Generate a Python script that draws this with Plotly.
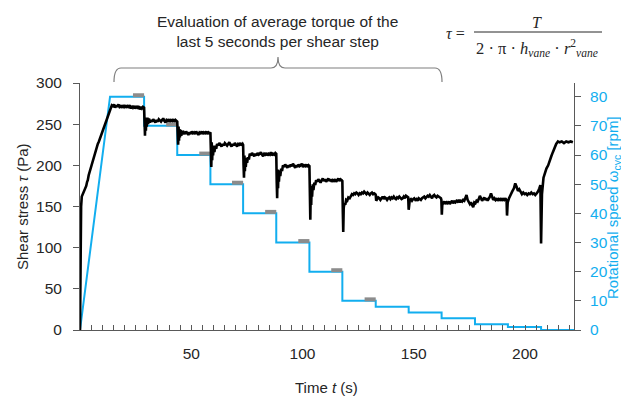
import plotly.graph_objects as go

# ---------------- data ----------------
# rotational speed profile (rpm): linear ramp, then constant steps
ramp_end = 13.5
step_levels = [80, 70, 60, 50, 40, 30, 20, 10, 8, 6, 4, 2, 1, 0]
step_ends = [28.8, 43.7, 58.6, 73.3, 88.2, 103.1, 117.9, 132.9, 147.7, 162.5, 177.5, 192.3, 207.2, 222]
eval_window = 5          # evaluation window (s) at end of each step
n_eval_steps = 8         # steps with marked evaluation window (80 ... 10 rpm)

# shear stress (Pa), per section (time s, stress Pa)
stress_ramp = [(0, 0), (0.15, 70), (0.3, 128), (0.5, 150), (0.8, 162), (1.3, 165), (1.8, 168), (2.25, 172),
               (2.8, 175), (3.2, 180), (3.5, 182), (3.9, 188), (4.5, 194), (5.0, 198), (5.5, 203), (6.0, 207),
               (6.5, 213), (7.0, 216), (7.5, 221), (8.0, 226), (8.5, 229), (9.0, 233), (9.5, 237), (10.0, 241),
               (10.5, 245), (11.0, 248), (11.5, 253), (12.0, 257), (12.5, 261), (13.0, 264), (13.5, 269), (14.3, 273)]
stress_80 = [(14.8, 272), (15.3, 274), (15.8, 270), (16.3, 273), (16.8, 271), (17.3, 274), (17.8, 271), (18.3, 272),
             (18.8, 270), (19.3, 273), (19.8, 271), (20.3, 273), (20.8, 270), (21.3, 272), (21.8, 271), (22.3, 273),
             (22.8, 269), (23.3, 272), (23.8, 270), (24.3, 272), (24.8, 269), (25.3, 271), (25.8, 270), (26.3, 272),
             (26.8, 268), (27.3, 271), (27.8, 269), (28.3, 271), (28.8, 270)]
stress_70 = [(29.0, 250), (29.2, 236), (29.4, 258), (29.6, 242), (29.8, 257), (30.0, 247), (30.3, 258), (30.6, 250),
             (31.0, 257), (31.4, 252), (31.9, 255), (32.4, 253), (32.9, 256), (33.4, 254), (33.9, 252), (34.4, 255),
             (34.9, 253), (35.4, 256), (35.9, 254), (36.4, 253), (36.9, 255), (37.4, 257), (37.9, 254), (38.4, 252),
             (38.9, 255), (39.4, 254), (39.9, 256), (40.4, 253), (40.9, 255), (41.4, 254), (41.9, 256), (42.4, 253),
             (42.9, 255), (43.4, 254), (43.7, 253)]
stress_60 = [(43.9, 238), (44.1, 225), (44.3, 247), (44.5, 230), (44.7, 244), (44.9, 234), (45.2, 243), (45.5, 236),
             (45.9, 242), (46.3, 238), (46.7, 240), (47.2, 238), (47.7, 241), (48.2, 239), (48.7, 237), (49.2, 240),
             (49.7, 238), (50.2, 241), (50.7, 239), (51.2, 240), (51.7, 238), (52.2, 241), (52.7, 239), (53.2, 237),
             (53.7, 240), (54.2, 239), (54.7, 241), (55.2, 238), (55.7, 240), (56.2, 239), (56.7, 241), (57.2, 238),
             (57.7, 240), (58.2, 239), (58.6, 240)]
stress_50 = [(58.8, 215), (59.0, 198), (59.2, 228), (59.4, 206), (59.6, 224), (59.8, 212), (60.1, 223), (60.4, 216),
             (60.8, 224), (61.2, 220), (61.6, 226), (62.1, 224), (62.6, 227), (63.1, 225), (63.6, 223), (64.1, 226),
             (64.6, 224), (65.1, 227), (65.6, 225), (66.1, 224), (66.6, 226), (67.1, 228), (67.6, 225), (68.1, 223),
             (68.6, 226), (69.1, 224), (69.6, 227), (70.1, 225), (70.6, 223), (71.1, 226), (71.6, 225), (72.1, 227),
             (72.6, 224), (73.1, 226), (73.3, 225)]
stress_40 = [(73.5, 200), (73.7, 185), (73.9, 212), (74.1, 193), (74.3, 209), (74.5, 198), (74.8, 209), (75.1, 203),
             (75.5, 210), (75.9, 207), (76.3, 214), (76.8, 212), (77.3, 215), (77.8, 213), (78.3, 211), (78.8, 214),
             (79.3, 212), (79.8, 215), (80.3, 213), (80.8, 214), (81.3, 216), (81.8, 213), (82.3, 211), (82.8, 214),
             (83.3, 213), (83.8, 215), (84.3, 212), (84.8, 214), (85.3, 213), (85.8, 216), (86.3, 212), (86.8, 214),
             (87.3, 213), (87.8, 215), (88.2, 214)]
stress_30 = [(88.4, 180), (88.6, 160), (88.8, 195), (89.0, 172), (89.2, 192), (89.4, 180), (89.7, 194), (90.0, 187),
             (90.4, 196), (90.8, 193), (91.2, 200), (91.7, 198), (92.2, 201), (92.7, 199), (93.2, 197), (93.7, 200),
             (94.2, 198), (94.7, 201), (95.2, 199), (95.7, 202), (96.2, 199), (96.7, 197), (97.2, 200), (97.7, 198),
             (98.2, 201), (98.7, 199), (99.2, 200), (99.7, 202), (100.2, 198), (100.7, 200), (101.2, 199), (101.7, 201),
             (102.2, 198), (102.7, 200), (103.1, 199)]
stress_20 = [(103.3, 160), (103.5, 134), (103.7, 172), (103.9, 152), (104.1, 175), (104.3, 162), (104.6, 177),
             (104.9, 170), (105.3, 179), (105.7, 176), (106.1, 182), (106.6, 180), (107.1, 183), (107.6, 181),
             (108.1, 179), (108.6, 182), (109.1, 184), (109.6, 181), (110.1, 183), (110.6, 180), (111.1, 182),
             (111.6, 184), (112.1, 181), (112.6, 183), (113.1, 180), (113.6, 182), (114.1, 181), (114.6, 183),
             (115.1, 180), (115.6, 182), (116.1, 184), (116.6, 181), (117.1, 183), (117.6, 182), (117.9, 181)]
stress_10 = [(118.1, 145), (118.3, 119), (118.5, 148), (118.8, 154), (119.2, 152), (119.6, 158), (120.1, 157),
             (120.6, 161), (121.2, 160), (121.7, 163), (122.2, 165), (122.7, 164), (123.2, 166), (123.7, 165),
             (124.2, 167), (124.7, 166), (125.2, 164), (125.7, 166), (126.2, 165), (126.7, 167), (127.2, 166),
             (127.7, 168), (128.2, 166), (128.7, 165), (129.2, 167), (129.7, 166), (130.2, 164), (130.7, 166),
             (131.2, 167), (131.7, 165), (132.2, 166), (132.7, 165), (132.9, 164)]
stress_8 = [(133.1, 157), (133.5, 159), (134.0, 161), (134.5, 160), (135.0, 158), (135.5, 160), (136.0, 162),
            (136.5, 159), (137.0, 161), (137.5, 160), (138.0, 158), (138.5, 160), (139.0, 161), (139.5, 159),
            (140.0, 161), (140.5, 160), (141.0, 162), (141.5, 160), (142.0, 159), (142.5, 161), (143.0, 160),
            (143.5, 162), (144.0, 161), (144.5, 159), (145.0, 160), (145.5, 162), (146.0, 160), (146.5, 163),
            (147.0, 162), (147.5, 161)]
stress_6 = [(147.7, 146), (147.9, 156), (148.2, 158), (148.7, 159), (149.2, 157), (149.7, 159), (150.2, 160),
            (150.7, 158), (151.2, 159), (151.7, 157), (152.2, 160), (152.7, 159), (153.2, 158), (153.7, 160),
            (154.2, 161), (154.7, 162), (155.2, 160), (155.7, 161), (156.2, 163), (156.7, 162), (157.2, 164),
            (157.7, 162), (158.2, 160), (158.7, 163), (159.2, 164), (159.7, 162), (160.2, 161), (160.7, 163),
            (161.2, 162), (161.7, 161), (162.2, 160), (162.4, 158)]
stress_4 = [(162.6, 140), (162.8, 152), (163.2, 154), (163.7, 156), (164.2, 153), (164.7, 155), (165.2, 154),
            (165.7, 156), (166.2, 153), (166.7, 155), (167.2, 157), (167.7, 154), (168.2, 156), (168.7, 155),
            (169.2, 157), (169.7, 156), (170.2, 158), (170.7, 155), (171.2, 157), (171.7, 156), (172.2, 158),
            (172.7, 157), (173.2, 160), (173.7, 164), (174.2, 158), (174.7, 155), (175.2, 153), (175.7, 155),
            (176.2, 152), (176.7, 149), (177.2, 155)]
stress_2 = [(177.7, 154), (178.2, 157), (178.7, 156), (179.2, 159), (179.7, 163), (180.2, 160), (180.7, 157),
            (181.2, 159), (181.7, 161), (182.2, 158), (182.7, 160), (183.2, 157), (183.7, 159), (184.2, 162),
            (184.7, 166), (185.2, 161), (185.7, 158), (186.2, 160), (186.7, 158), (187.2, 160), (187.7, 157),
            (188.2, 159), (188.7, 158), (189.2, 160), (189.7, 157), (190.2, 159), (190.7, 158), (191.2, 160),
            (191.7, 157)]
stress_1 = [(191.9, 139), (192.2, 155), (192.8, 160), (193.5, 165), (194.2, 168), (195.0, 172), (195.6, 178),
            (196.2, 174), (196.8, 169), (197.4, 171), (198.0, 167), (198.6, 165), (199.2, 167), (199.8, 165),
            (200.4, 166), (201.0, 164), (201.6, 166), (202.2, 165), (202.8, 167), (203.4, 165), (204.0, 166),
            (204.6, 164), (205.2, 166), (205.8, 168), (206.4, 172), (206.9, 176)]
stress_0 = [(207.2, 105), (207.6, 165), (208.3, 185), (209.0, 192), (209.6, 196), (210.4, 200), (211.0, 206),
            (211.8, 211), (212.5, 216), (213.2, 222), (214.0, 226), (214.8, 229), (215.5, 228), (216.5, 229),
            (217.5, 227), (218.5, 229), (219.5, 228), (220.5, 229), (221.5, 228)]

stress_sections = [stress_ramp, stress_80, stress_70, stress_60, stress_50, stress_40, stress_30,
                   stress_20, stress_10, stress_8, stress_6, stress_4, stress_2, stress_1, stress_0]

# ---------------- build series ----------------
t_stress, stress = [], []
for sec in stress_sections:
    for t, p in sec:
        t_stress.append(t)
        stress.append(p)

speed_t, speed = [0, ramp_end], [0, step_levels[0]]
for i, (lvl, end) in enumerate(zip(step_levels, step_ends)):
    speed_t.append(end)
    speed.append(lvl)
    if i + 1 < len(step_levels):
        speed_t.append(end)
        speed.append(step_levels[i + 1])

BLUE = "#12AEEF"
AXIS = "#595959"
TXT = "#262626"
FONT = "Liberation Sans, Arial, sans-serif"
SERIF = "Liberation Serif, Times New Roman, serif"

fig = go.Figure()
fig.add_trace(go.Scatter(x=speed_t, y=speed, mode="lines", line=dict(color=BLUE, width=2),
                         yaxis="y", hoverinfo="skip", showlegend=False))
for lvl, end in list(zip(step_levels, step_ends))[:n_eval_steps]:
    fig.add_trace(go.Scatter(x=[end - eval_window, end], y=[lvl + 0.5, lvl + 0.5], mode="lines",
                             line=dict(color="#8C8C8C", width=4), yaxis="y",
                             hoverinfo="skip", showlegend=False))
fig.add_trace(go.Scatter(x=t_stress, y=stress, mode="lines", line=dict(color="black", width=2.6),
                         yaxis="y2", hoverinfo="skip", showlegend=False))

# ---------------- layout ----------------
# page coordinates of the plot area; the page body has an 8 px margin
OFF = 8
PL, PR, PT, PB = 80, 574, 83, 330
W, H = 629 - OFF, 396 - OFF
pw, ph = PR - PL, PB - PT


def px(x):
    return (x - PL) / pw


def py(y):
    return (PB - y) / ph


fig.update_layout(
    width=W, height=H,
    margin=dict(l=PL - OFF, r=W - (PR - OFF), t=PT - OFF, b=H - (PB - OFF), autoexpand=False),
    paper_bgcolor="white", plot_bgcolor="white",
    font=dict(family=FONT, size=15, color=TXT),
    xaxis=dict(range=[0, 222], showgrid=False, zeroline=False, showline=True, linecolor=AXIS, linewidth=1,
               tickmode="array", tickvals=[50, 100, 150, 200], ticks="inside", ticklen=5, tickcolor=AXIS,
               minor=dict(tickmode="linear", tick0=0, dtick=5, ticks="inside", ticklen=5, tickcolor=AXIS),
               tickfont=dict(size=15.5, color=TXT), ticklabelstandoff=9, automargin=False),
    yaxis=dict(range=[0, 84.7], side="right", showgrid=False, zeroline=False, showline=True,
               linecolor=AXIS, linewidth=1, tickmode="array", tickvals=list(range(0, 81, 10)),
               ticks="outside", ticklen=6, tickcolor=AXIS, tickfont=dict(size=15.5, color=BLUE),
               ticklabelstandoff=6, anchor="x", automargin=False),
    yaxis2=dict(range=[0, 300], side="left", overlaying="y", showgrid=False, zeroline=False, showline=True,
                linecolor=AXIS, linewidth=1, tickmode="linear", tick0=0, dtick=50,
                ticks="outside", ticklen=6, tickcolor=AXIS, tickfont=dict(size=15.5, color=TXT),
                ticklabelstandoff=8, anchor="x", automargin=False),
)

ann = [
    dict(text="Shear stress <i>τ</i> (Pa)", x=px(22), y=py(207), textangle=-90),
    dict(text="Rotational speed ω<sub>cyc</sub> [rpm]", x=px(613), y=py(208), textangle=-90,
         font=dict(color=BLUE, size=15, family=FONT)),
    dict(text="Time <i>t</i> (s)", x=px(326), y=py(387)),
    dict(text="Evaluation of average torque of the<br>last 5 seconds per shear step", x=px(277), y=py(32),
         font=dict(family=FONT, size=15.5, color=TXT)),
    dict(text="<i>τ</i> =", x=px(455), y=py(33), font=dict(family=SERIF, size=16, color=TXT)),
    dict(text="<i>T</i>", x=px(537), y=py(22), font=dict(family=SERIF, size=16, color=TXT)),
    dict(text="2 · π · <i>h</i><sub><i>vane</i></sub> · <i>r</i><sup>2</sup><sub><i>vane</i></sub>",
         x=px(537), y=py(48), font=dict(family=SERIF, size=16.5, color=TXT)),
]
for a in ann:
    a.setdefault("font", dict(family=FONT, size=15, color=TXT))
    fig.add_annotation(xref="paper", yref="paper", showarrow=False, xanchor="center", yanchor="middle", **a)

# fraction bar
fig.add_shape(type="line", xref="paper", yref="paper", x0=px(474), x1=px(602), y0=py(32), y1=py(32),
              line=dict(color=TXT, width=1))

# curly brace over the evaluated steps
x1, xc, x2 = px(114), px(278), px(442)
yb, yh, yc = py(82), py(68), py(57)
dx = 7 / pw
brace = (f"M {x1},{yb} Q {x1},{yh} {x1+dx},{yh} L {xc-dx},{yh} Q {xc},{yh} {xc},{yc} "
         f"Q {xc},{yh} {xc+dx},{yh} L {x2-dx},{yh} Q {x2},{yh} {x2},{yb}")
fig.add_shape(type="path", xref="paper", yref="paper", path=brace, line=dict(color="#7F7F7F", width=1.2))

fig.write_html("out.html")
